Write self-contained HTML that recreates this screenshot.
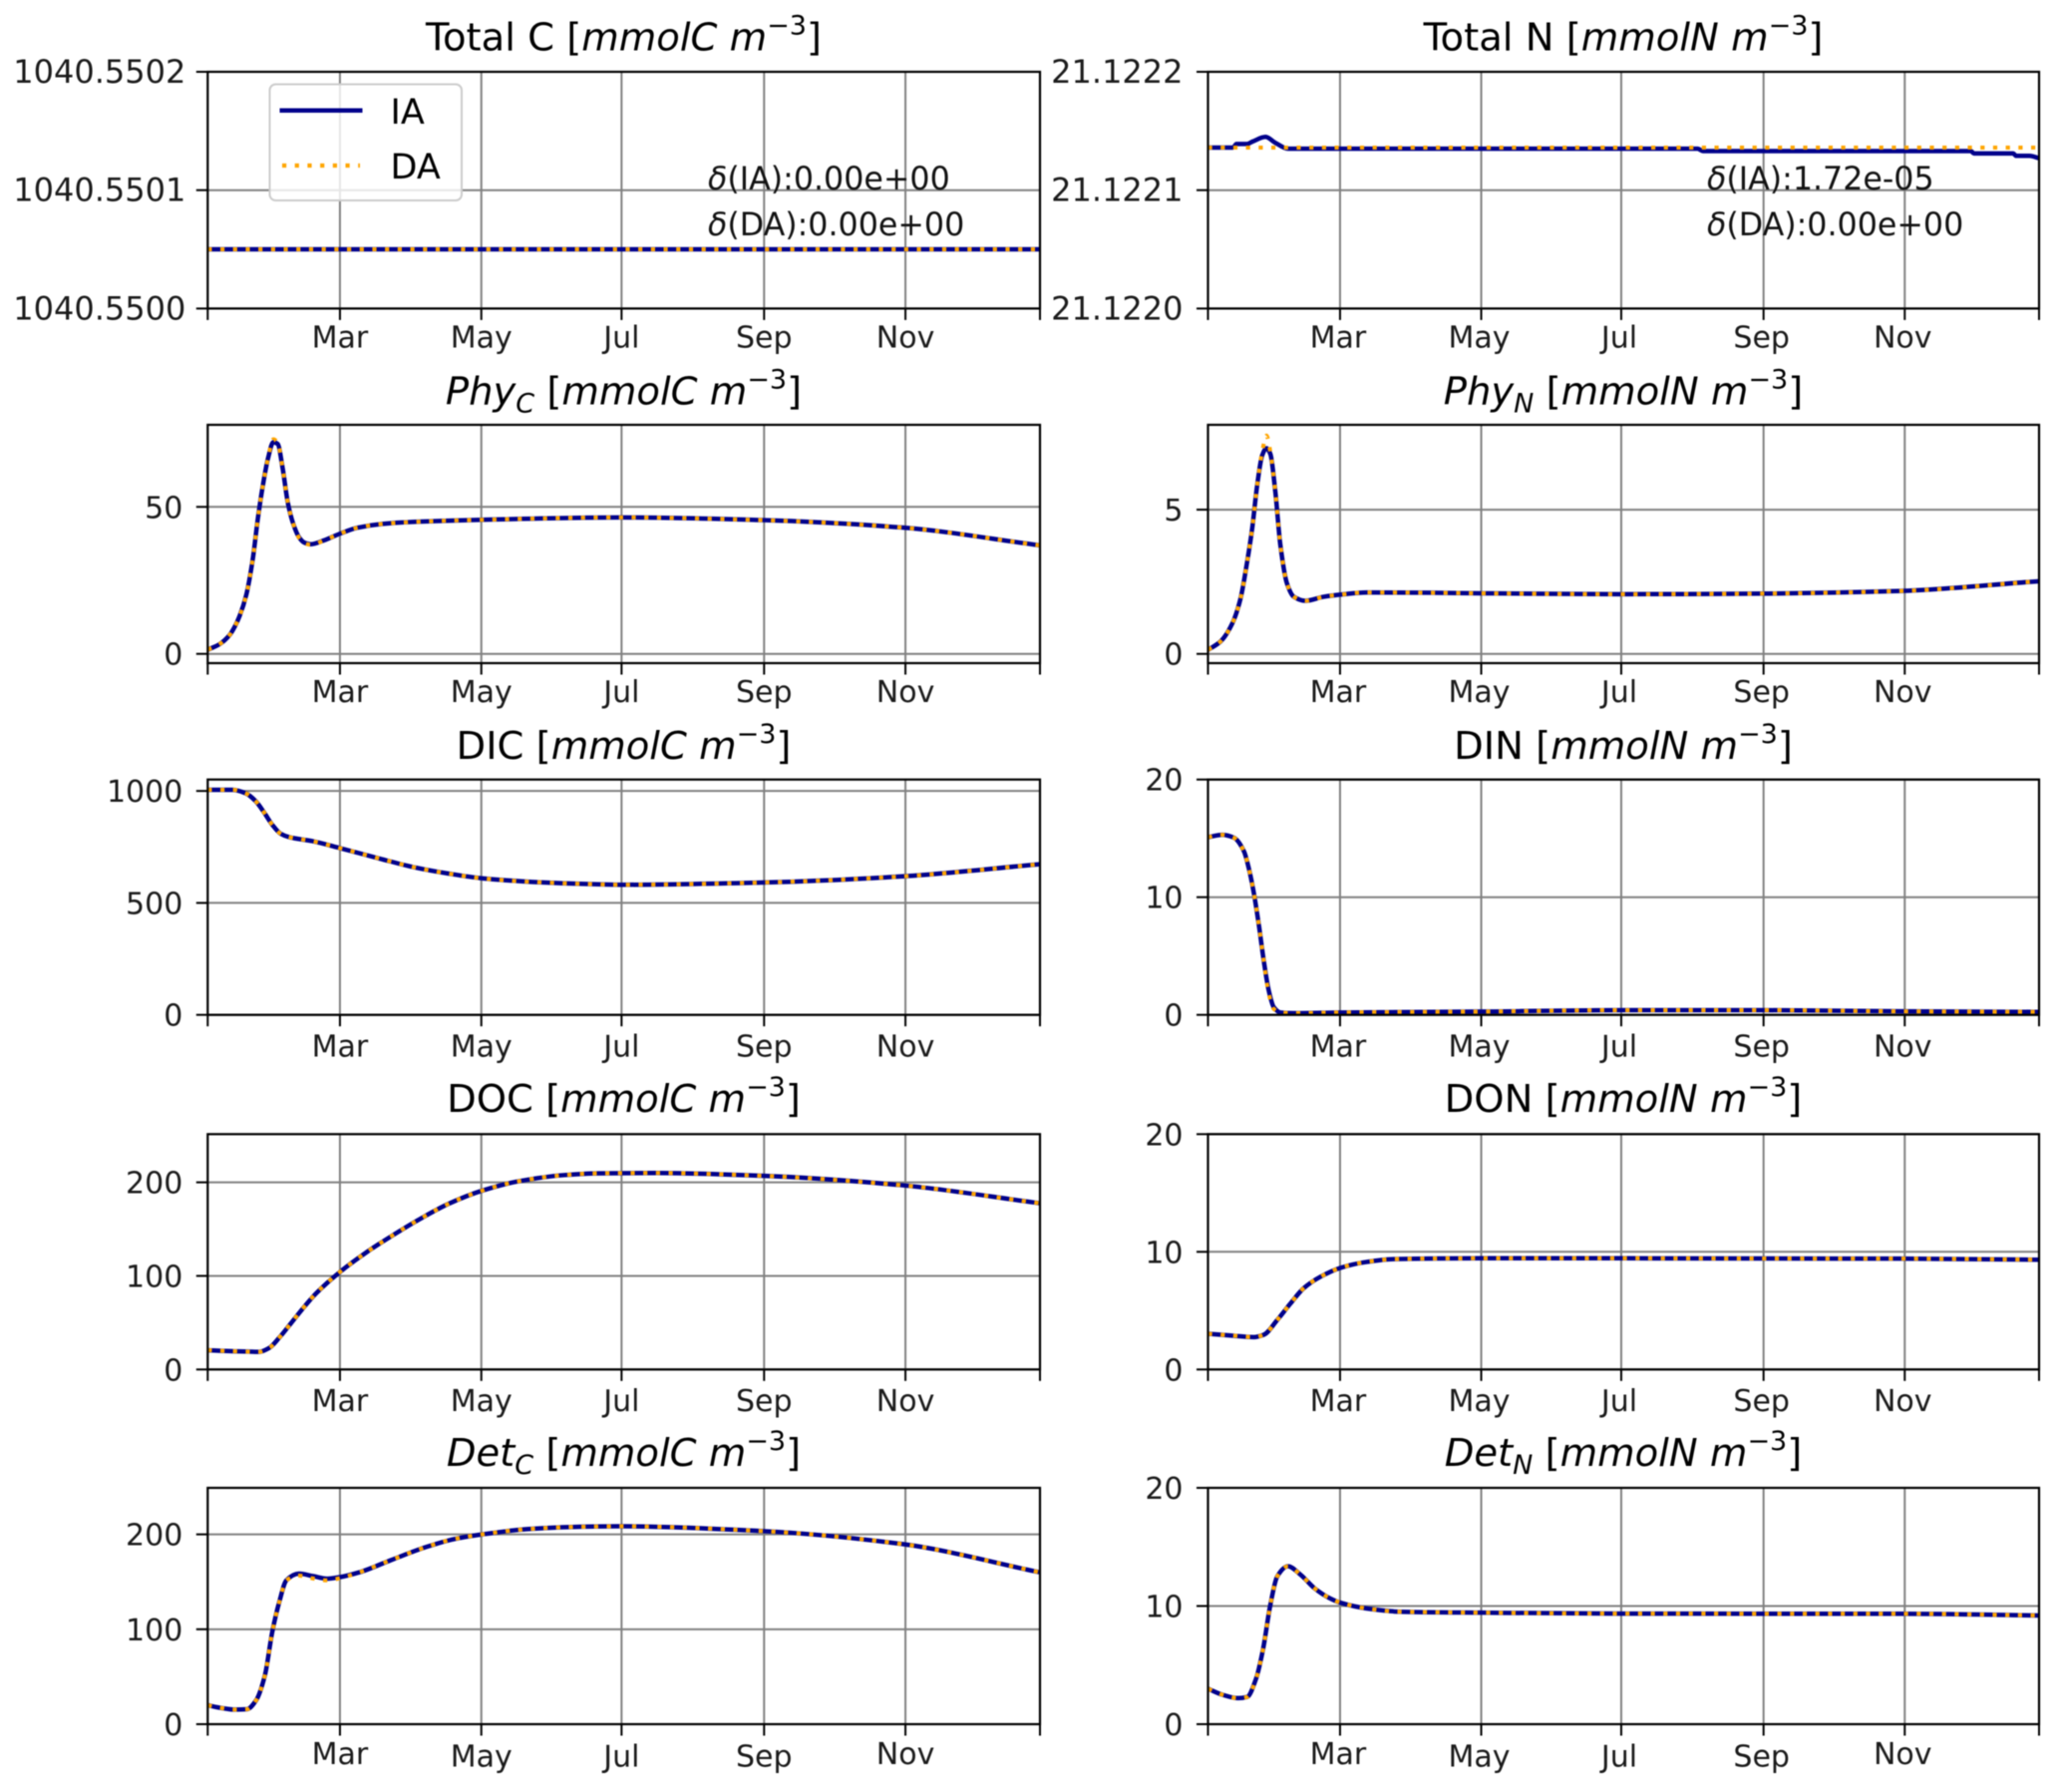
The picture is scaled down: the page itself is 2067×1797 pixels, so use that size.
<!DOCTYPE html>
<html lang="en">
<head>
<meta charset="utf-8">
<title>Total and component carbon and nitrogen time series</title>
<style>
html,body{margin:0;padding:0;background:#fff;width:2067px;height:1797px;overflow:hidden}
svg{display:block;filter:blur(0.55px)}
text{font-family:"DejaVu Sans","Liberation Sans",sans-serif;fill:#000}
.tick{font-size:30px;fill:#1a1a1a}
.tick-wide{font-size:32px}
.title{font-size:38.5px;text-anchor:middle}
.delta{font-size:31.7px;fill:#111}
.leg{font-size:35px}
.it{font-style:italic}
.sm{font-size:27px}
</style>
</head>
<body>
<svg id="chart" xmlns="http://www.w3.org/2000/svg" width="2067" height="1797" viewBox="0 0 2067 1797">
<rect width="2067" height="1797" fill="#fff"/>
<g id="panels"></g>

<g>
<text class="title" x="625.5" y="50.5">Total C [<tspan class="it">mmolC m</tspan><tspan class="sm" dy="-16">−3</tspan><tspan dy="16">]</tspan></text>
<text class="title" x="1628" y="50.5">Total N [<tspan class="it">mmolN m</tspan><tspan class="sm" dy="-16">−3</tspan><tspan dy="16">]</tspan></text>
<text class="title" x="625.5" y="405.5"><tspan class="it">Phy</tspan><tspan class="it sm" dy="8">C</tspan><tspan dy="-8"> [</tspan><tspan class="it">mmolC m</tspan><tspan class="sm" dy="-16">−3</tspan><tspan dy="16">]</tspan></text>
<text class="title" x="1628" y="405.5"><tspan class="it">Phy</tspan><tspan class="it sm" dy="8">N</tspan><tspan dy="-8"> [</tspan><tspan class="it">mmolN m</tspan><tspan class="sm" dy="-16">−3</tspan><tspan dy="16">]</tspan></text>
<text class="title" x="625.5" y="761">DIC [<tspan class="it">mmolC m</tspan><tspan class="sm" dy="-16">−3</tspan><tspan dy="16">]</tspan></text>
<text class="title" x="1628" y="761">DIN [<tspan class="it">mmolN m</tspan><tspan class="sm" dy="-16">−3</tspan><tspan dy="16">]</tspan></text>
<text class="title" x="625.5" y="1115">DOC [<tspan class="it">mmolC m</tspan><tspan class="sm" dy="-16">−3</tspan><tspan dy="16">]</tspan></text>
<text class="title" x="1628" y="1115">DON [<tspan class="it">mmolN m</tspan><tspan class="sm" dy="-16">−3</tspan><tspan dy="16">]</tspan></text>
<text class="title" x="625.5" y="1470"><tspan class="it">Det</tspan><tspan class="it sm" dy="8">C</tspan><tspan dy="-8"> [</tspan><tspan class="it">mmolC m</tspan><tspan class="sm" dy="-16">−3</tspan><tspan dy="16">]</tspan></text>
<text class="title" x="1628" y="1470"><tspan class="it">Det</tspan><tspan class="it sm" dy="8">N</tspan><tspan dy="-8"> [</tspan><tspan class="it">mmolN m</tspan><tspan class="sm" dy="-16">−3</tspan><tspan dy="16">]</tspan></text>
</g>

<g>
<text class="delta" x="710" y="190"><tspan class="it">δ</tspan>(IA):0.00e+00</text>
<text class="delta" x="710" y="236"><tspan class="it">δ</tspan>(DA):0.00e+00</text>
<text class="delta" x="1712" y="190"><tspan class="it">δ</tspan>(IA):1.72e-05</text>
<text class="delta" x="1712" y="236"><tspan class="it">δ</tspan>(DA):0.00e+00</text>
</g>

<g>
<rect x="270.5" y="84.5" width="192.5" height="116.5" rx="6" ry="6" fill="#fff" fill-opacity="0.8" stroke="#cccccc" stroke-width="2"/>
<line x1="280.5" y1="110.7" x2="363.5" y2="110.7" stroke="#00008b" stroke-width="4.5"/>
<text class="leg" x="391.5" y="124">IA</text>
<line x1="283" y1="166" x2="361" y2="166" stroke="#ffa500" stroke-width="4.2" stroke-dasharray="4.2 8.5"/>
<text class="leg" x="391.5" y="179">DA</text>
</g>
</svg>

<script>
// ---- shared axis data ----
const monthLabels = ['Mar', 'May', 'Jul', 'Sep', 'Nov'];
const monthDays = [58, 120, 181.5, 244, 306];
const yearDays = [0, 365];

// ---- Total C ----
const totalCDays = [0, 365];
const totalCIA = [1040.55005, 1040.55005];
const totalCDA = [1040.55005, 1040.55005];
const totalCLimits = [1040.55, 1040.5502];
const totalCTicks = [1040.55, 1040.5501, 1040.5502];
const totalCTickLabels = ['1040.5500', '1040.5501', '1040.5502'];

// ---- Total N ----
const totalNDays = [0, 11, 12.5, 17, 19.5, 25.3, 29.6, 35.2, 215, 217.5, 335, 336.5, 353.6, 355, 360.8, 365];
const totalNIA = [21.122136, 21.122136, 21.122139, 21.122139, 21.122141, 21.122145, 21.12214, 21.122135, 21.122135, 21.122133, 21.122133, 21.122131, 21.122131, 21.122129, 21.122129, 21.122127];
const totalNDaDays = [0, 365];
const totalNDA = [21.122136, 21.122136];
const totalNLimits = [21.122, 21.1222];
const totalNTicks = [21.122, 21.1221, 21.1222];
const totalNTickLabels = ['21.1220', '21.1221', '21.1222'];

// ---- Phy C ----
const phyCDays = [0, 5.2, 9.6, 11.9, 14, 16.9, 19.8, 22, 24.2, 26.4, 28.8, 30.7, 32.9, 35.1, 37.2, 40.2, 42.5, 45.3, 51, 58.4, 65.7, 76.6, 91, 120, 181, 243, 304, 365];
const phyCIA = [1.4, 3.3, 6.4, 9.3, 12.9, 20, 32.4, 46, 57.3, 66.3, 72, 71.4, 63, 51.6, 45, 39.5, 37.8, 37.3, 38.6, 41, 42.9, 44.2, 44.9, 45.6, 46.4, 45.5, 43, 36.9];
const phyCDA = [1.4, 3.3, 6.4, 9.3, 12.9, 20, 32.4, 46, 57.3, 66.3, 73, 71.8, 63, 51.6, 45, 39.3, 37.6, 37.1, 38.6, 41, 42.9, 44.2, 44.9, 45.6, 46.4, 45.5, 43, 36.9];
const phyCLimits = [-3.15, 77.9];
const phyCTicks = [0, 50];
const phyCTickLabels = ['0', '50'];

// ---- Phy N ----
const phyNDays = [0, 5.5, 10.7, 14.3, 17.2, 19.4, 21.6, 23.8, 25.7, 27.4, 29.6, 31.8, 34.7, 37.7, 42.8, 50.8, 58.8, 69.8, 97.5, 120.9, 181, 243, 304, 365];
const phyNIA = [0.14, 0.43, 1.06, 1.92, 3.19, 4.34, 5.84, 6.88, 7.13, 6.93, 5.61, 3.77, 2.44, 1.98, 1.84, 1.98, 2.06, 2.13, 2.12, 2.1, 2.07, 2.09, 2.18, 2.52];
const phyNDA = [0.14, 0.43, 1.06, 1.92, 3.19, 4.34, 5.84, 7.0, 7.57, 7.0, 5.61, 3.77, 2.44, 1.98, 1.84, 1.98, 2.06, 2.13, 2.12, 2.1, 2.07, 2.09, 2.18, 2.52];
const phyNLimits = [-0.32, 7.94];
const phyNTicks = [0, 5];
const phyNTickLabels = ['0', '5'];

// ---- DIC ----
const dicDays = [0, 10.9, 16.8, 21, 24.8, 28.4, 32, 35.7, 45.9, 58.3, 76.5, 91, 105.6, 120.2, 142, 171, 181, 243, 304, 365];
const dicIA = [1005, 1005, 989, 955, 903, 848, 809, 794, 776, 744, 695, 658, 631, 610, 594, 583, 581, 591, 618, 673];
const dicDA = [1005, 1005, 989, 955, 903, 848, 809, 794, 776, 744, 695, 658, 631, 610, 594, 583, 581, 591, 618, 673];
const dicLimits = [0, 1051];
const dicTicks = [0, 500, 1000];
const dicTickLabels = ['0', '500', '1000'];

// ---- DIN ----
const dinDays = [0, 6.3, 11.4, 15.8, 18, 20.1, 22.3, 24.5, 26.7, 28.9, 31.8, 37.7, 58.4, 120.6, 182, 243, 304, 365];
const dinIA = [15.1, 15.3, 15.05, 13.9, 12.4, 10.4, 7.7, 4.6, 2.06, 0.65, 0.2, 0.14, 0.2, 0.28, 0.4, 0.4, 0.3, 0.25];
const dinDA = [15.1, 15.3, 15.05, 13.9, 12.4, 10.4, 7.7, 4.6, 1.8, 0.5, 0.2, 0.14, 0.2, 0.28, 0.4, 0.4, 0.3, 0.25];
const dinLimits = [0, 20];
const dinTicks = [0, 10, 20];
const dinTickLabels = ['0', '10', '20'];

// ---- DOC ----
const docDays = [0, 10.9, 22.6, 27, 31.3, 36.4, 41.5, 47.4, 58.3, 69.2, 80.9, 92.5, 105.6, 120.2, 136, 156.6, 171, 197, 243, 304, 365];
const docIA = [20.6, 19.5, 18.8, 23, 33.7, 49, 64.5, 81, 104.8, 124.5, 143, 160, 177, 191, 201, 207.8, 209.6, 210, 207, 197, 177.6];
const docDA = [20.6, 19.5, 18.8, 23, 33.7, 49, 64.5, 81, 104.8, 124.5, 143, 160, 177, 191, 201, 207.8, 209.6, 210, 207, 197, 177.6];
const docLimits = [0, 251.5];
const docTicks = [0, 100, 200];
const docTickLabels = ['0', '100', '200'];

// ---- DON ----
const donDays = [0, 9.9, 20.1, 24.5, 30.4, 36.2, 42, 49.3, 58.4, 68.3, 81.5, 120.6, 182, 243, 304, 365];
const donIA = [3.03, 2.89, 2.75, 2.95, 4.2, 5.6, 6.9, 7.87, 8.65, 9.1, 9.38, 9.45, 9.45, 9.43, 9.42, 9.33];
const donDA = [3.03, 2.89, 2.75, 2.95, 4.2, 5.6, 6.9, 7.87, 8.65, 9.1, 9.38, 9.45, 9.45, 9.43, 9.42, 9.33];
const donLimits = [0, 20];
const donTicks = [0, 10, 20];
const donTickLabels = ['0', '10', '20'];

// ---- Det C ----
const detCDays = [0, 5.6, 11.9, 17.3, 21.2, 25.1, 28.3, 31.4, 34.5, 40, 46.2, 52.4, 58.1, 66.5, 80.5, 96.2, 108, 120.4, 140, 160, 181, 243, 304, 365];
const detCIA = [20, 17.2, 15.4, 15.8, 25, 51.6, 97, 128.8, 151.6, 158.6, 156, 153.3, 155, 160, 173, 187, 195, 200, 205.5, 207.8, 208.5, 203.5, 190, 160];
const detCDA = [20, 17.2, 15.4, 15.8, 25, 51.6, 97, 128.8, 151.6, 156.5, 153.5, 151.5, 154, 160, 173, 187, 195, 200, 205.5, 207.8, 208.5, 203.5, 190, 160];
const detCLimits = [0, 249];
const detCTicks = [0, 100, 200];
const detCTickLabels = ['0', '100', '200'];

// ---- Det N ----
const detNDays = [0, 6.2, 13.3, 17.2, 21.1, 24.2, 27.3, 30.4, 35.1, 40.6, 46.8, 53.1, 58.2, 70.2, 84.3, 120.2, 181, 243, 304, 365];
const detNIA = [3.0, 2.5, 2.2, 2.3, 3.84, 6.36, 10, 12.5, 13.36, 12.66, 11.5, 10.7, 10.28, 9.78, 9.52, 9.44, 9.36, 9.35, 9.35, 9.2];
const detNDA = [3.0, 2.5, 2.2, 2.3, 3.84, 6.36, 10, 12.5, 13.36, 12.66, 11.5, 10.7, 10.28, 9.78, 9.52, 9.44, 9.36, 9.35, 9.35, 9.2];
const detNLimits = [0, 20];
const detNTicks = [0, 10, 20];
const detNTickLabels = ['0', '10', '20'];

// ---- layout (pixels) ----
const colLeft = [208.3, 1211.5];
const colRight = [1043, 2045];
const rowTop = [72, 426, 781.7, 1137.3, 1492];
const rowBottom = [309.4, 665, 1017.7, 1373.3, 1729];
const rowLabelOffset = [39, 39, 41.7, 41.7, 42.5];

const panels = [
  {key:'total-c', c:0, r:0, days:totalCDays, ia:totalCIA, daDays:totalCDays, da:totalCDA, lim:totalCLimits, ticks:totalCTicks, labels:totalCTickLabels},
  {key:'total-n', c:1, r:0, days:totalNDays, ia:totalNIA, daDays:totalNDaDays, da:totalNDA, lim:totalNLimits, ticks:totalNTicks, labels:totalNTickLabels},
  {key:'phy-c', c:0, r:1, days:phyCDays, ia:phyCIA, daDays:phyCDays, da:phyCDA, lim:phyCLimits, ticks:phyCTicks, labels:phyCTickLabels},
  {key:'phy-n', c:1, r:1, days:phyNDays, ia:phyNIA, daDays:phyNDays, da:phyNDA, lim:phyNLimits, ticks:phyNTicks, labels:phyNTickLabels},
  {key:'dic', c:0, r:2, days:dicDays, ia:dicIA, daDays:dicDays, da:dicDA, lim:dicLimits, ticks:dicTicks, labels:dicTickLabels},
  {key:'din', c:1, r:2, days:dinDays, ia:dinIA, daDays:dinDays, da:dinDA, lim:dinLimits, ticks:dinTicks, labels:dinTickLabels},
  {key:'doc', c:0, r:3, days:docDays, ia:docIA, daDays:docDays, da:docDA, lim:docLimits, ticks:docTicks, labels:docTickLabels},
  {key:'don', c:1, r:3, days:donDays, ia:donIA, daDays:donDays, da:donDA, lim:donLimits, ticks:donTicks, labels:donTickLabels},
  {key:'det-c', c:0, r:4, days:detCDays, ia:detCIA, daDays:detCDays, da:detCDA, lim:detCLimits, ticks:detCTicks, labels:detCTickLabels},
  {key:'det-n', c:1, r:4, days:detNDays, ia:detNIA, daDays:detNDays, da:detNDA, lim:detNLimits, ticks:detNTicks, labels:detNTickLabels}
];

const NS = 'http://www.w3.org/2000/svg';
function make(tag, attrs, parent) {
  const el = document.createElementNS(NS, tag);
  for (const k in attrs) el.setAttribute(k, attrs[k]);
  parent.appendChild(el);
  return el;
}

// Monotone cubic path through the read data points (no overshoot).
function curvePath(px, py) {
  const n = px.length;
  if (n < 3) return 'M' + px[0] + ' ' + py[0] + 'L' + px[n - 1] + ' ' + py[n - 1];
  const d = [], m = [];
  for (let i = 0; i < n - 1; i++) d.push((py[i + 1] - py[i]) / (px[i + 1] - px[i]));
  m.push(d[0]);
  for (let i = 1; i < n - 1; i++) {
    if (d[i - 1] * d[i] <= 0) { m.push(0); continue; }
    const w1 = 2 * (px[i + 1] - px[i]) + (px[i] - px[i - 1]);
    const w2 = (px[i + 1] - px[i]) + 2 * (px[i] - px[i - 1]);
    m.push((w1 + w2) / (w1 / d[i - 1] + w2 / d[i]));
  }
  m.push(d[n - 2]);
  let s = 'M' + px[0].toFixed(2) + ' ' + py[0].toFixed(2);
  for (let i = 0; i < n - 1; i++) {
    const h = (px[i + 1] - px[i]) / 3;
    s += 'C' + (px[i] + h).toFixed(2) + ' ' + (py[i] + m[i] * h).toFixed(2) + ' ' +
         (px[i + 1] - h).toFixed(2) + ' ' + (py[i + 1] - m[i + 1] * h).toFixed(2) + ' ' +
         px[i + 1].toFixed(2) + ' ' + py[i + 1].toFixed(2);
  }
  return s;
}

const root = document.getElementById('panels');
const defs = make('defs', {}, root);

panels.forEach(function (p) {
  const L = colLeft[p.c], R = colRight[p.c], T = rowTop[p.r], B = rowBottom[p.r];
  const xScale = function (day) { return L + (day - yearDays[0]) / (yearDays[1] - yearDays[0]) * (R - L); };
  const yScale = function (v) { return B - (v - p.lim[0]) / (p.lim[1] - p.lim[0]) * (B - T); };

  const g = make('g', {}, root);
  
  

  const clip = make('clipPath', {id: 'clip-' + p.key}, defs);
  make('rect', {x: L, y: T, width: R - L, height: B - T}, clip);

  // grid
  monthDays.forEach(function (day, i) {
    const line = make('line', {x1: xScale(day), x2: xScale(day), y1: T, y2: B, stroke: '#808080', 'stroke-width': 2}, g);
    
    
  });
  p.ticks.forEach(function (v, i) {
    const line = make('line', {x1: L, x2: R, y1: yScale(v), y2: yScale(v), stroke: '#808080', 'stroke-width': 2}, g);
    
    
  });

  // series
  const ia = make('path', {d: curvePath(p.days.map(xScale), p.ia.map(yScale)), fill: 'none', stroke: '#00008b', 'stroke-width': 4.5, 'clip-path': 'url(#clip-' + p.key + ')'}, g);
  
  
  const da = make('path', {d: curvePath(p.daDays.map(xScale), p.da.map(yScale)), fill: 'none', stroke: '#ffa500', 'stroke-width': 4, 'stroke-dasharray': '4.2 8.5', 'clip-path': 'url(#clip-' + p.key + ')'}, g);
  
  

  // spines
  const frame = make('rect', {x: L, y: T, width: R - L, height: B - T, fill: 'none', stroke: '#000', 'stroke-width': 2.2}, g);
  
  

  // x ticks
  const xEnds = [yearDays[0]].concat(monthDays, [yearDays[1]]);
  xEnds.forEach(function (day) {
    const t = make('line', {x1: xScale(day), x2: xScale(day), y1: B, y2: B + 11.5, stroke: '#000', 'stroke-width': 2}, g);
    
    
  });
  monthDays.forEach(function (day, i) {
    const lift = (p.r === 4 && (monthLabels[i] === 'Mar' || monthLabels[i] === 'Nov')) ? -2.5 : 0;
    const t = make('text', {'class': 'tick', x: xScale(day) - (p.c === 1 ? 2 : 0), y: B + rowLabelOffset[p.r] + lift, 'text-anchor': 'middle'}, g);
    t.textContent = monthLabels[i];
    
    
  });

  // y ticks
  p.ticks.forEach(function (v, i) {
    const m = make('line', {x1: L - 11.5, x2: L, y1: yScale(v), y2: yScale(v), stroke: '#000', 'stroke-width': 2}, g);
    
    
    const wide = p.r === 0;
    const inset = (wide && p.c === 0) ? 22 : 25;
    const t = make('text', {'class': wide ? 'tick tick-wide' : 'tick', x: L - inset, y: yScale(v) + 11, 'text-anchor': 'end'}, g);
    t.textContent = p.labels[i];
    
    
  });
});
</script>
</body>
</html>
